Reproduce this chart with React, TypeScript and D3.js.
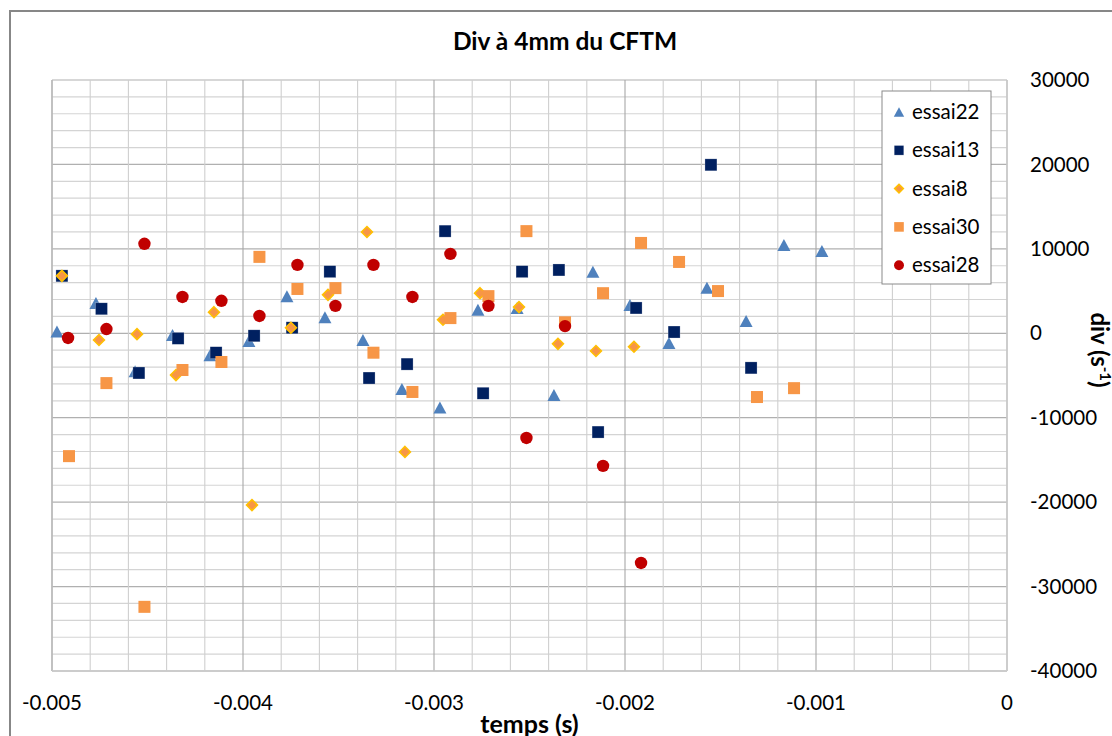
import React from "react";
import * as d3 from "d3";

const X22 = [-0.004974, -0.00477, -0.004565, -0.004369, -0.004173, -0.003969, -0.00377, -0.003571, -0.003372, -0.003168, -0.002969, -0.00277, -0.002565, -0.002372, -0.002168, -0.001974, -0.00177, -0.001571, -0.001366, -0.001168, -0.000969];
const Y22 = [200, 3600, -4500, -200, -2600, -900, 4400, 1900, -800, -6600, -8800, 2800, 3000, -7300, 7300, 3350, -1150, 5400, 1450, 10450, 9750];

const X13 = [-0.004948, -0.004741, -0.004545, -0.00434, -0.004141, -0.003942, -0.003743, -0.003545, -0.00334, -0.003141, -0.002942, -0.002743, -0.002539, -0.002346, -0.002141, -0.001942, -0.001743, -0.00155, -0.00134];
const Y13 = [6800, 2900, -4700, -600, -2300, -300, 650, 7300, -5300, -3650, 12100, -7100, 7300, 7500, -11700, 3000, 150, 19950, -4100];

const X8 = [-0.004948, -0.004754, -0.004555, -0.004351, -0.004152, -0.003953, -0.003749, -0.003555, -0.003351, -0.003152, -0.002953, -0.002759, -0.002555, -0.002351, -0.002152, -0.001953];
const Y8 = [6800, -800, -100, -4950, 2500, -20350, 650, 4550, 12000, -14050, 1600, 4750, 3100, -1250, -2100, -1600];

const X30 = [-0.004911, -0.004715, -0.004516, -0.004317, -0.004113, -0.003914, -0.003715, -0.003516, -0.003317, -0.003113, -0.002914, -0.002715, -0.002516, -0.002314, -0.002115, -0.001916, -0.001717, -0.001513, -0.001309, -0.001115];
const Y30 = [-14550, -5900, -32400, -4350, -3400, 9050, 5250, 5350, -2300, -6950, 1800, 4400, 12100, 1300, 4750, 10700, 8450, 5000, -7550, -6500];

const X28 = [-0.004916, -0.004715, -0.004516, -0.004317, -0.004113, -0.003914, -0.003715, -0.003516, -0.003317, -0.003113, -0.002914, -0.002715, -0.002516, -0.002314, -0.002115, -0.001916];
const Y28 = [-550, 500, 10600, 4300, 3850, 2050, 8100, 3250, 8100, 4300, 9400, 3250, -12400, 850, -15700, -27200];

const SERIES = ["essai22", "essai13", "essai8", "essai30", "essai28"];
const X_TICKS = [-0.005, -0.004, -0.003, -0.002, -0.001, 0];
const X_TICK_LABELS = ["-0.005", "-0.004", "-0.003", "-0.002", "-0.001", "0"];
const Y_TICKS = [30000, 20000, 10000, 0, -10000, -20000, -30000, -40000];

const FONT = "Lato, 'Open Sans', sans-serif";

const TRI = "#4F81BD";
const NAVY = "#002060";
const ORANGE = "#F79646";
const YELLOW = "#FFC000";
const RED = "#C00000";

function Marker({ kind, x, y, s = 1 }: { kind: string; x: number; y: number; s?: number }) {
  if (kind === "essai22") {
    const w = 13 * s, h = 12 * s;
    return <path d={`M${x},${y - h / 2}L${x + w / 2},${y + h / 2}L${x - w / 2},${y + h / 2}Z`} fill={TRI} />;
  }
  if (kind === "essai13") {
    const a = 12 * s;
    return <rect x={x - a / 2} y={y - a / 2} width={a} height={a} fill={NAVY} stroke="#ffffff" strokeOpacity={0.5} strokeWidth={0.5} />;
  }
  if (kind === "essai8") {
    const r = 5.5 * s;
    return <path d={`M${x},${y - r}L${x + r},${y}L${x},${y + r}L${x - r},${y}Z`} fill={ORANGE} stroke={YELLOW} strokeWidth={1.5} />;
  }
  if (kind === "essai30") {
    const a = 12 * s;
    return <rect x={x - a / 2} y={y - a / 2} width={a} height={a} fill={ORANGE} />;
  }
  return <circle cx={x} cy={y} r={6.2 * s} fill={RED} />;
}

export default function App() {
  const W = 1112, H = 736;
  const left = 52, right = 1007, top = 80, bottom = 671;
  const x = d3.scaleLinear().domain([-0.005, 0]).range([left, right]);
  const y = d3.scaleLinear().domain([-40000, 30000]).range([bottom, top]);

  const xMinor = d3.range(0, 26).map((i) => -0.005 + i * 0.0002);
  const yMinor = d3.range(0, 36).map((i) => -40000 + i * 2000);

  const data: [string, number[], number[]][] = [
    ["essai22", X22, Y22],
    ["essai13", X13, Y13],
    ["essai8", X8, Y8],
    ["essai30", X30, Y30],
    ["essai28", X28, Y28],
  ];

  return (
    <svg width={W} height={H} style={{ position: "absolute", left: 0, top: 0 }}>
      <rect x={0} y={0} width={W} height={H} fill="#ffffff" />
      <rect x={10} y={11} width={W + 20} height={H + 20} fill="#ffffff" stroke="#878787" strokeWidth={2} />
      {/* grid */}
      {yMinor.map((v, i) => {
        const major = Math.abs(v % 10000) < 1;
        return <line key={"h" + i} x1={left} x2={right} y1={y(v)} y2={y(v)} stroke={major ? "#b0b0b0" : "#d4d4d4"} strokeWidth={1.2} />;
      })}
      {xMinor.map((v, i) => {
        const major = i % 5 === 0;
        return <line key={"v" + i} x1={x(v)} x2={x(v)} y1={top} y2={bottom} stroke={major ? "#a8a8a8" : "#cfcfcf"} strokeWidth={1.1} />;
      })}
      <line x1={left} x2={left} y1={top} y2={bottom} stroke="#bdbdbd" strokeWidth={1.5} />
      <line x1={left} x2={right} y1={bottom} y2={bottom} stroke="#c8c8c8" strokeWidth={1.5} />
      <line x1={right} x2={right} y1={top} y2={bottom} stroke="#cccccc" strokeWidth={1.5} />
      {/* points */}
      {data.map(([name, xs, ys]) => (
        <g key={name}>
          {xs.map((xv, i) => (
            <Marker key={i} kind={name} x={x(xv)} y={y(ys[i])} />
          ))}
        </g>
      ))}
      {/* title */}
      <text x={565} y={50} textAnchor="middle" fontFamily={FONT} fontWeight="bold" fontSize={24.5} fill="#000">Div à 4mm du CFTM</text>
      {/* x ticks */}
      {X_TICKS.map((v, i) => (
        <text key={"xt" + i} x={x(v)} y={710} textAnchor="middle" fontFamily={FONT} fontSize={20.5} fill="#000">{X_TICK_LABELS[i]}</text>
      ))}
      <text x={(left + right) / 2} y={733} textAnchor="middle" fontFamily={FONT} fontWeight="bold" fontSize={25} fill="#000">temps (s)</text>
      {/* y ticks on right */}
      {Y_TICKS.map((v, i) => (
        <text key={"yt" + i} x={1030} y={y(v)} dy="0.35em" fontFamily={FONT} fontSize={20.5} fill="#000">{String(v)}</text>
      ))}
      <text transform={`translate(1091,${350}) rotate(90)`} textAnchor="middle" fontFamily={FONT} fontWeight="bold" fontSize={24} fill="#000">
        div (s<tspan dy={-9} fontSize={15}>-1</tspan><tspan dy={9}>)</tspan>
      </text>
      {/* legend */}
      <rect x={882} y={91} width={109} height={193} fill="#ffffff" stroke="#8a8a8a" strokeWidth={1} />
      {SERIES.map((name, i) => {
        const ly = 112 + i * 38.3;
        return (
          <g key={"lg" + name}>
            <Marker kind={name} x={899} y={ly} s={0.8} />
            <text x={912} y={ly} dy="0.35em" fontFamily={FONT} fontSize={20.5} fill="#000">{name}</text>
          </g>
        );
      })}
    </svg>
  );
}
